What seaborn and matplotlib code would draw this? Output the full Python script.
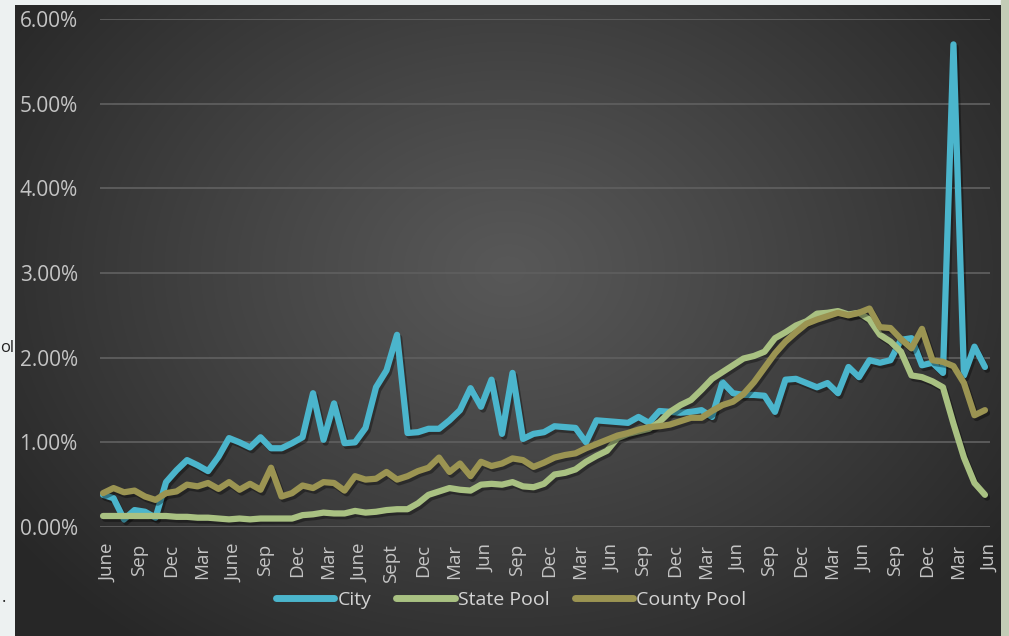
import numpy as np
import pandas as pd
import seaborn as sns
import matplotlib.pyplot as plt
import matplotlib.patheffects as pe
from matplotlib.lines import Line2D
from matplotlib.patches import Rectangle
from matplotlib.ticker import PercentFormatter
from matplotlib.transforms import ScaledTranslation

# Quarterly tick labels (one every third month)
tick_labels = ["June", "Sep", "Dec", "Mar", "June", "Sep", "Dec", "Mar", "June", "Sept",
               "Dec", "Mar", "Jun", "Sep", "Dec", "Mar", "Jun", "Sep", "Dec", "Mar",
               "Jun", "Sep", "Dec", "Mar", "Jun", "Sep", "Dec", "Mar", "Jun"]

# Monthly rates, in percent
city = [0.38, 0.34, 0.09, 0.20, 0.18, 0.11, 0.53, 0.67, 0.79, 0.73,
        0.66, 0.83, 1.05, 1.00, 0.94, 1.06, 0.93, 0.93, 0.99, 1.06,
        1.58, 1.03, 1.46, 0.99, 1.00, 1.17, 1.65, 1.85, 2.27, 1.11,
        1.12, 1.16, 1.16, 1.26, 1.38, 1.64, 1.42, 1.74, 1.10, 1.82,
        1.04, 1.10, 1.12, 1.19, 1.18, 1.17, 1.00, 1.26, 1.25, 1.24,
        1.23, 1.30, 1.23, 1.37, 1.36, 1.35, 1.36, 1.38, 1.30, 1.71,
        1.58, 1.56, 1.56, 1.55, 1.36, 1.74, 1.75, 1.70, 1.65, 1.70,
        1.58, 1.89, 1.77, 1.97, 1.94, 1.97, 2.21, 2.23, 1.91, 1.94,
        1.82, 5.70, 1.79, 2.13, 1.89]

state_pool = [0.13, 0.13, 0.13, 0.13, 0.13, 0.13, 0.13, 0.12, 0.12, 0.11,
              0.11, 0.10, 0.09, 0.10, 0.09, 0.10, 0.10, 0.10, 0.10, 0.14,
              0.15, 0.17, 0.16, 0.16, 0.19, 0.17, 0.18, 0.20, 0.21, 0.21,
              0.28, 0.38, 0.42, 0.46, 0.44, 0.43, 0.50, 0.51, 0.50, 0.53,
              0.48, 0.47, 0.51, 0.62, 0.64, 0.68, 0.77, 0.84, 0.90, 1.05,
              1.10, 1.13, 1.16, 1.24, 1.36, 1.44, 1.50, 1.62, 1.75, 1.83,
              1.91, 1.99, 2.02, 2.07, 2.23, 2.30, 2.38, 2.43, 2.52, 2.53,
              2.55, 2.51, 2.53, 2.45, 2.27, 2.19, 2.07, 1.79, 1.77, 1.72,
              1.65, 1.22, 0.82, 0.52, 0.38]

county_pool = [0.40, 0.46, 0.41, 0.43, 0.36, 0.32, 0.40, 0.42, 0.50, 0.48,
               0.52, 0.45, 0.53, 0.44, 0.51, 0.44, 0.70, 0.36, 0.40, 0.49,
               0.46, 0.53, 0.52, 0.43, 0.60, 0.56, 0.57, 0.65, 0.56, 0.60,
               0.66, 0.70, 0.82, 0.65, 0.75, 0.60, 0.77, 0.72, 0.75, 0.81,
               0.79, 0.71, 0.76, 0.82, 0.85, 0.87, 0.93, 0.98, 1.03, 1.08,
               1.11, 1.15, 1.18, 1.19, 1.21, 1.25, 1.29, 1.29, 1.37, 1.44,
               1.48, 1.57, 1.71, 1.88, 2.05, 2.19, 2.30, 2.40, 2.45, 2.49,
               2.53, 2.50, 2.53, 2.58, 2.36, 2.35, 2.22, 2.11, 2.34, 1.97,
               1.95, 1.90, 1.70, 1.32, 1.38]

series_names = ["City", "State Pool", "County Pool"]
series_colors = ["#4bb5cc", "#a9c182", "#9b9452"]

df = pd.DataFrame({"month": np.arange(len(city)),
                   "City": city, "State Pool": state_pool, "County Pool": county_pool})
long_df = df.melt(id_vars="month", var_name="series", value_name="rate")
long_df["rate"] = long_df["rate"] / 100

sns.set_theme(style="dark")
plt.rcParams["font.family"] = ["Open Sans", "DejaVu Sans"]

W, H = 1009, 636
fig = plt.figure(figsize=(W / 100, H / 100), dpi=100)
fig.patch.set_facecolor("#edf1f1")

# slide strip on the right
fig.add_artist(Rectangle((1001 / W, 0), 8 / W, 1, transform=fig.transFigure,
                         color="#c3ccb6", zorder=0))

# dark radial gradient panel
bg_ax = fig.add_axes([15 / W, 0, 986 / W, 631 / H], zorder=0)
yy, xx = np.mgrid[0:1:631j, 0:1:986j]
d = np.sqrt(((xx - 0.5) / 0.62) ** 2 + ((yy - 0.42) / 0.75) ** 2)
shade = 0x58 - (0x58 - 0x27) * np.clip(d, 0, 1) ** 1.1
img = np.dstack([shade, shade, shade]) / 255
bg_ax.imshow(img, aspect="auto", interpolation="bilinear")
bg_ax.axis("off")

# bits of slide text peeking out on the left edge
fig.text(0, 1 - 348 / H, "ol", ha="left", va="center", fontsize=12, color="#222222")
fig.text(2 / W, 1 - 598 / H, ".", ha="left", va="center", fontsize=12, color="#222222")

ax = fig.add_axes([100 / W, 109 / H, 890 / W, 508 / H], zorder=1)
ax.set_facecolor("none")

sns.lineplot(data=long_df, x="month", y="rate", hue="series", hue_order=series_names,
             palette=dict(zip(series_names, series_colors)), linewidth=4.5,
             legend=False, ax=ax)

for line in ax.lines:
    line.set_solid_capstyle("round")
    line.set_solid_joinstyle("round")
    line.set_path_effects([pe.SimpleLineShadow(offset=(1.5, -2), alpha=0.35, shadow_color="black"),
                           pe.Normal()])

ax.set_xlim(-0.29, 84.48)
ax.set_ylim(0, 0.06)
ax.set_yticks(np.arange(0, 0.061, 0.01))
ax.yaxis.set_major_formatter(PercentFormatter(xmax=1, decimals=2))
ax.set_xticks(np.arange(0, len(city), 3))
ax.set_xticklabels(tick_labels, rotation=90)
ax.set_xlabel("")
ax.set_ylabel("")

ax.grid(axis="y", color="#5e5e5e", linewidth=1.3)
ax.grid(axis="x", visible=False)
for s in ax.spines.values():
    s.set_visible(False)
ax.tick_params(axis="x", length=0, pad=12, labelsize=13.5, labelcolor="#c4c4c4")
ax.tick_params(axis="y", length=0, pad=16, labelsize=15, labelcolor="#c4c4c4")

shift = ScaledTranslation(5 / 100, 0, fig.dpi_scale_trans)
for lbl in ax.get_xticklabels():
    lbl.set_transform(lbl.get_transform() + shift)

handles = [Line2D([0], [0], color=c, lw=5, solid_capstyle="round") for c in series_colors]
leg = fig.legend(handles, series_names, loc="center", bbox_to_anchor=(511 / W, 1 - 600 / H),
                 ncol=3, frameon=False, fontsize=14, handlelength=3.0, handletextpad=0.15,
                 columnspacing=1.3)
for t in leg.get_texts():
    t.set_color("#d4d4d4")

fig.savefig("out.png", dpi=100, facecolor=fig.get_facecolor())
